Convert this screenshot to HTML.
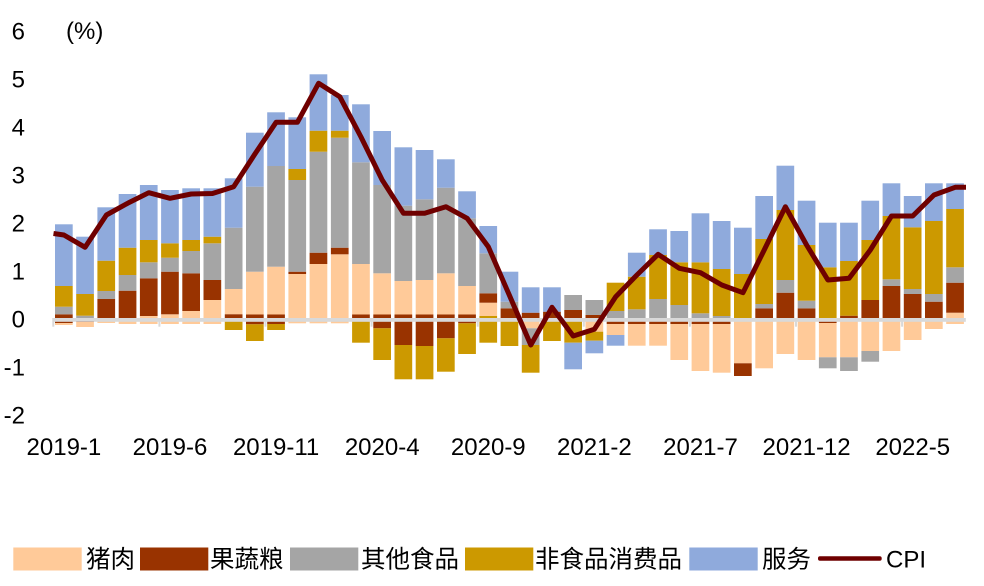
<!DOCTYPE html>
<html>
<head>
<meta charset="utf-8">
<style>
html,body{margin:0;padding:0;background:#fff;}
svg{display:block;}
.p{fill:#FFCA99}.b{fill:#993300}.g{fill:#A5A5A5}.y{fill:#CC9900}.l{fill:#8FAADC}
text{font-family:"Liberation Sans","Noto Sans CJK SC",sans-serif;fill:#000;}
</style>
</head>
<body>
<svg width="984" height="586" viewBox="0 0 984 586" xmlns="http://www.w3.org/2000/svg">
<rect width="984" height="586" fill="#fff"/>

<!-- Y axis labels -->
<g font-size="24" text-anchor="end">
<text x="25" y="39.4">6</text>
<text x="25" y="87.4">5</text>
<text x="25" y="135.4">4</text>
<text x="25" y="183.4">3</text>
<text x="25" y="231.4">2</text>
<text x="25" y="279.4">1</text>
<text x="25" y="327.4">0</text>
<text x="25" y="375.4">-1</text>
<text x="25" y="423.4">-2</text>
</g>
<text x="66" y="39" font-size="24">(%)</text>

<!-- Bars -->
<g>
<g transform="translate(55.0,0)"><rect class="b" x="0" width="17.7" y="314.3" height="5.7"/><rect class="g" x="0" width="17.7" y="306.7" height="7.6"/><rect class="y" x="0" width="17.7" y="286" height="20.7"/><rect class="l" x="0" width="17.7" y="224.3" height="61.7"/><rect class="b" x="0" width="17.7" y="320" height="3"/><rect class="p" x="0" width="17.7" y="323" height="2"/></g>
<g transform="translate(76.2,0)"><rect class="g" x="0" width="17.7" y="315.7" height="4.3"/><rect class="y" x="0" width="17.7" y="294" height="21.7"/><rect class="l" x="0" width="17.7" y="236.7" height="57.3"/><rect class="b" x="0" width="17.7" y="320" height="2"/><rect class="p" x="0" width="17.7" y="322" height="5"/></g>
<g transform="translate(97.4,0)"><rect class="b" x="0" width="17.7" y="299" height="21"/><rect class="g" x="0" width="17.7" y="291" height="8"/><rect class="y" x="0" width="17.7" y="260.7" height="30.3"/><rect class="l" x="0" width="17.7" y="207.3" height="53.4"/><rect class="p" x="0" width="17.7" y="320" height="3"/></g>
<g transform="translate(118.7,0)"><rect class="b" x="0" width="17.7" y="290.7" height="29.3"/><rect class="g" x="0" width="17.7" y="275" height="15.7"/><rect class="y" x="0" width="17.7" y="247.7" height="27.3"/><rect class="l" x="0" width="17.7" y="194" height="53.7"/><rect class="p" x="0" width="17.7" y="320" height="4"/></g>
<g transform="translate(139.9,0)"><rect class="p" x="0" width="17.7" y="316" height="8"/><rect class="b" x="0" width="17.7" y="278.3" height="37.7"/><rect class="g" x="0" width="17.7" y="262.3" height="16"/><rect class="y" x="0" width="17.7" y="240" height="22.3"/><rect class="l" x="0" width="17.7" y="185" height="55"/></g>
<g transform="translate(161.1,0)"><rect class="p" x="0" width="17.7" y="314.3" height="9.7"/><rect class="b" x="0" width="17.7" y="271.7" height="42.6"/><rect class="g" x="0" width="17.7" y="257.7" height="14"/><rect class="y" x="0" width="17.7" y="243.3" height="14.4"/><rect class="l" x="0" width="17.7" y="190" height="53.3"/></g>
<g transform="translate(182.3,0)"><rect class="p" x="0" width="17.7" y="311" height="13"/><rect class="b" x="0" width="17.7" y="273.3" height="37.7"/><rect class="g" x="0" width="17.7" y="251" height="22.3"/><rect class="y" x="0" width="17.7" y="240" height="11"/><rect class="l" x="0" width="17.7" y="188.3" height="51.7"/></g>
<g transform="translate(203.5,0)"><rect class="p" x="0" width="17.7" y="300" height="24"/><rect class="b" x="0" width="17.7" y="280" height="20"/><rect class="g" x="0" width="17.7" y="243.3" height="36.7"/><rect class="y" x="0" width="17.7" y="236.7" height="6.6"/><rect class="l" x="0" width="17.7" y="188.3" height="48.4"/></g>
<g transform="translate(224.8,0)"><rect class="p" x="0" width="17.7" y="289" height="25.3"/><rect class="b" x="0" width="17.7" y="314.3" height="3.7"/><rect class="g" x="0" width="17.7" y="227.7" height="61.3"/><rect class="l" x="0" width="17.7" y="178.3" height="49.4"/><rect class="y" x="0" width="17.7" y="320" height="10"/></g>
<g transform="translate(246.0,0)"><rect class="p" x="0" width="17.7" y="271.7" height="42.8"/><rect class="b" x="0" width="17.7" y="314.5" height="9.8"/><rect class="g" x="0" width="17.7" y="186.7" height="85"/><rect class="l" x="0" width="17.7" y="132.7" height="54"/><rect class="y" x="0" width="17.7" y="324.3" height="16.7"/></g>
<g transform="translate(267.2,0)"><rect class="p" x="0" width="17.7" y="266.7" height="47.8"/><rect class="b" x="0" width="17.7" y="314.5" height="9.5"/><rect class="g" x="0" width="17.7" y="166" height="100.7"/><rect class="l" x="0" width="17.7" y="112.3" height="53.7"/><rect class="y" x="0" width="17.7" y="324" height="6"/></g>
<g transform="translate(288.4,0)"><rect class="p" x="0" width="17.7" y="274" height="49.3"/><rect class="b" x="0" width="17.7" y="271.7" height="2.3"/><rect class="g" x="0" width="17.7" y="180" height="91.7"/><rect class="y" x="0" width="17.7" y="169" height="11"/><rect class="l" x="0" width="17.7" y="117.3" height="51.7"/></g>
<g transform="translate(309.6,0)"><rect class="p" x="0" width="17.7" y="264" height="59.3"/><rect class="b" x="0" width="17.7" y="252.7" height="11.3"/><rect class="g" x="0" width="17.7" y="151.7" height="101"/><rect class="y" x="0" width="17.7" y="130.7" height="21"/><rect class="l" x="0" width="17.7" y="74.3" height="56.4"/></g>
<g transform="translate(330.9,0)"><rect class="p" x="0" width="17.7" y="254.3" height="69"/><rect class="b" x="0" width="17.7" y="247.7" height="6.6"/><rect class="g" x="0" width="17.7" y="137.7" height="110"/><rect class="y" x="0" width="17.7" y="130.7" height="7"/><rect class="l" x="0" width="17.7" y="95" height="35.7"/></g>
<g transform="translate(352.1,0)"><rect class="p" x="0" width="17.7" y="264" height="50.5"/><rect class="b" x="0" width="17.7" y="314.5" height="5.5"/><rect class="g" x="0" width="17.7" y="162.3" height="101.7"/><rect class="l" x="0" width="17.7" y="104.3" height="58"/><rect class="y" x="0" width="17.7" y="320" height="22.7"/></g>
<g transform="translate(373.3,0)"><rect class="p" x="0" width="17.7" y="273.3" height="41.2"/><rect class="b" x="0" width="17.7" y="314.5" height="13.8"/><rect class="g" x="0" width="17.7" y="185" height="88.3"/><rect class="l" x="0" width="17.7" y="131" height="54"/><rect class="y" x="0" width="17.7" y="328.3" height="31.7"/></g>
<g transform="translate(394.5,0)"><rect class="p" x="0" width="17.7" y="281" height="33.5"/><rect class="b" x="0" width="17.7" y="314.5" height="30.5"/><rect class="g" x="0" width="17.7" y="205.7" height="75.3"/><rect class="l" x="0" width="17.7" y="147.3" height="58.4"/><rect class="y" x="0" width="17.7" y="345" height="34.3"/></g>
<g transform="translate(415.7,0)"><rect class="p" x="0" width="17.7" y="280" height="34.5"/><rect class="b" x="0" width="17.7" y="314.5" height="31.5"/><rect class="g" x="0" width="17.7" y="199.3" height="80.7"/><rect class="l" x="0" width="17.7" y="150" height="49.3"/><rect class="y" x="0" width="17.7" y="346" height="33.3"/></g>
<g transform="translate(437.0,0)"><rect class="p" x="0" width="17.7" y="273.3" height="41.2"/><rect class="b" x="0" width="17.7" y="314.5" height="23.8"/><rect class="g" x="0" width="17.7" y="187.7" height="85.6"/><rect class="l" x="0" width="17.7" y="159.3" height="28.4"/><rect class="y" x="0" width="17.7" y="338.3" height="33.4"/></g>
<g transform="translate(458.2,0)"><rect class="p" x="0" width="17.7" y="286" height="28.5"/><rect class="b" x="0" width="17.7" y="314.5" height="8.8"/><rect class="g" x="0" width="17.7" y="218.3" height="67.7"/><rect class="l" x="0" width="17.7" y="191.3" height="27"/><rect class="y" x="0" width="17.7" y="323.3" height="30.7"/></g>
<g transform="translate(479.4,0)"><rect class="p" x="0" width="17.7" y="302.7" height="13.3"/><rect class="b" x="0" width="17.7" y="293.3" height="9.4"/><rect class="g" x="0" width="17.7" y="253.3" height="40"/><rect class="l" x="0" width="17.7" y="226" height="27.3"/><rect class="y" x="0" width="17.7" y="316" height="26.7"/></g>
<g transform="translate(500.6,0)"><rect class="b" x="0" width="17.7" y="308.3" height="9.7"/><rect class="g" x="0" width="17.7" y="301.7" height="6.6"/><rect class="l" x="0" width="17.7" y="271.7" height="30"/><rect class="y" x="0" width="17.7" y="318" height="28"/></g>
<g transform="translate(521.8,0)"><rect class="b" x="0" width="17.7" y="312.7" height="5.3"/><rect class="l" x="0" width="17.7" y="287.3" height="25.4"/><rect class="p" x="0" width="17.7" y="318" height="10.3"/><rect class="g" x="0" width="17.7" y="328.3" height="16.7"/><rect class="y" x="0" width="17.7" y="345" height="27.7"/></g>
<g transform="translate(543.1,0)"><rect class="b" x="0" width="17.7" y="311.7" height="6.3"/><rect class="l" x="0" width="17.7" y="287.3" height="24.4"/><rect class="y" x="0" width="17.7" y="318" height="23"/></g>
<g transform="translate(564.3,0)"><rect class="b" x="0" width="17.7" y="310" height="8"/><rect class="g" x="0" width="17.7" y="295" height="15"/><rect class="y" x="0" width="17.7" y="318" height="24.7"/><rect class="l" x="0" width="17.7" y="342.7" height="26.6"/></g>
<g transform="translate(585.5,0)"><rect class="b" x="0" width="17.7" y="315" height="3"/><rect class="g" x="0" width="17.7" y="300" height="15"/><rect class="p" x="0" width="17.7" y="318" height="13.7"/><rect class="y" x="0" width="17.7" y="331.7" height="9"/><rect class="l" x="0" width="17.7" y="340.7" height="12.6"/></g>
<g transform="translate(606.7,0)"><rect class="g" x="0" width="17.7" y="311" height="7"/><rect class="y" x="0" width="17.7" y="282.7" height="28.3"/><rect class="b" x="0" width="17.7" y="318" height="6"/><rect class="p" x="0" width="17.7" y="324" height="11"/><rect class="l" x="0" width="17.7" y="335" height="10.7"/></g>
<g transform="translate(627.9,0)"><rect class="g" x="0" width="17.7" y="309.3" height="8.7"/><rect class="y" x="0" width="17.7" y="276.7" height="32.6"/><rect class="l" x="0" width="17.7" y="252.7" height="24"/><rect class="b" x="0" width="17.7" y="318" height="6"/><rect class="p" x="0" width="17.7" y="324" height="21.7"/></g>
<g transform="translate(649.2,0)"><rect class="g" x="0" width="17.7" y="299" height="19"/><rect class="y" x="0" width="17.7" y="255" height="44"/><rect class="l" x="0" width="17.7" y="229.3" height="25.7"/><rect class="b" x="0" width="17.7" y="318" height="6"/><rect class="p" x="0" width="17.7" y="324" height="21.7"/></g>
<g transform="translate(670.4,0)"><rect class="g" x="0" width="17.7" y="305" height="13"/><rect class="y" x="0" width="17.7" y="262.3" height="42.7"/><rect class="l" x="0" width="17.7" y="231" height="31.3"/><rect class="b" x="0" width="17.7" y="318" height="6"/><rect class="p" x="0" width="17.7" y="324" height="36"/></g>
<g transform="translate(691.6,0)"><rect class="g" x="0" width="17.7" y="313.3" height="4.7"/><rect class="y" x="0" width="17.7" y="262.3" height="51"/><rect class="l" x="0" width="17.7" y="213.3" height="49"/><rect class="b" x="0" width="17.7" y="318" height="6"/><rect class="p" x="0" width="17.7" y="324" height="47"/></g>
<g transform="translate(712.8,0)"><rect class="g" x="0" width="17.7" y="316" height="2"/><rect class="y" x="0" width="17.7" y="269" height="47"/><rect class="l" x="0" width="17.7" y="221" height="48"/><rect class="b" x="0" width="17.7" y="318" height="6"/><rect class="p" x="0" width="17.7" y="324" height="48.7"/></g>
<g transform="translate(734.0,0)"><rect class="y" x="0" width="17.7" y="274" height="47.7"/><rect class="l" x="0" width="17.7" y="227.7" height="46.3"/><rect class="p" x="0" width="17.7" y="321.7" height="41.6"/><rect class="b" x="0" width="17.7" y="363.3" height="12.7"/></g>
<g transform="translate(755.3,0)"><rect class="b" x="0" width="17.7" y="308.3" height="9.7"/><rect class="g" x="0" width="17.7" y="304" height="4.3"/><rect class="y" x="0" width="17.7" y="239" height="65"/><rect class="l" x="0" width="17.7" y="196" height="43"/><rect class="p" x="0" width="17.7" y="318" height="50.3"/></g>
<g transform="translate(776.5,0)"><rect class="b" x="0" width="17.7" y="292.7" height="25.3"/><rect class="g" x="0" width="17.7" y="280" height="12.7"/><rect class="y" x="0" width="17.7" y="210" height="70"/><rect class="l" x="0" width="17.7" y="165.7" height="44.3"/><rect class="p" x="0" width="17.7" y="318" height="36"/></g>
<g transform="translate(797.7,0)"><rect class="b" x="0" width="17.7" y="308.3" height="9.7"/><rect class="g" x="0" width="17.7" y="300.7" height="7.6"/><rect class="y" x="0" width="17.7" y="245" height="55.7"/><rect class="l" x="0" width="17.7" y="200.7" height="44.3"/><rect class="p" x="0" width="17.7" y="318" height="42"/></g>
<g transform="translate(818.9,0)"><rect class="y" x="0" width="17.7" y="267.3" height="50.7"/><rect class="l" x="0" width="17.7" y="222.7" height="44.6"/><rect class="b" x="0" width="17.7" y="318" height="5"/><rect class="p" x="0" width="17.7" y="323" height="34.3"/><rect class="g" x="0" width="17.7" y="357.3" height="11"/></g>
<g transform="translate(840.1,0)"><rect class="b" x="0" width="17.7" y="315.7" height="2.3"/><rect class="y" x="0" width="17.7" y="261" height="54.7"/><rect class="l" x="0" width="17.7" y="222.7" height="38.3"/><rect class="p" x="0" width="17.7" y="318" height="39.3"/><rect class="g" x="0" width="17.7" y="357.3" height="13.7"/></g>
<g transform="translate(861.4,0)"><rect class="b" x="0" width="17.7" y="300" height="18"/><rect class="y" x="0" width="17.7" y="240" height="60"/><rect class="l" x="0" width="17.7" y="200.7" height="39.3"/><rect class="p" x="0" width="17.7" y="318" height="33"/><rect class="g" x="0" width="17.7" y="351" height="10.7"/></g>
<g transform="translate(882.6,0)"><rect class="b" x="0" width="17.7" y="286" height="32"/><rect class="g" x="0" width="17.7" y="279.3" height="6.7"/><rect class="y" x="0" width="17.7" y="216" height="63.3"/><rect class="l" x="0" width="17.7" y="183.3" height="32.7"/><rect class="p" x="0" width="17.7" y="318" height="33"/></g>
<g transform="translate(903.8,0)"><rect class="b" x="0" width="17.7" y="294" height="24"/><rect class="g" x="0" width="17.7" y="289" height="5"/><rect class="y" x="0" width="17.7" y="227.3" height="61.7"/><rect class="l" x="0" width="17.7" y="196" height="31.3"/><rect class="p" x="0" width="17.7" y="318" height="22"/></g>
<g transform="translate(925.0,0)"><rect class="b" x="0" width="17.7" y="301.7" height="16.3"/><rect class="g" x="0" width="17.7" y="294" height="7.7"/><rect class="y" x="0" width="17.7" y="221" height="73"/><rect class="l" x="0" width="17.7" y="183.3" height="37.7"/><rect class="p" x="0" width="17.7" y="318" height="11"/></g>
<g transform="translate(946.2,0)"><rect class="p" x="0" width="17.7" y="312.7" height="11.3"/><rect class="b" x="0" width="17.7" y="282.7" height="30"/><rect class="g" x="0" width="17.7" y="267.3" height="15.4"/><rect class="y" x="0" width="17.7" y="209" height="58.3"/><rect class="l" x="0" width="17.7" y="183.3" height="25.7"/></g>
</g>

<!-- zero axis line and ticks -->
<rect x="53.3" y="318" width="912.5" height="3.8" fill="#D9D9D9"/>
<g fill="#D9D9D9">
<rect x="52.3" y="318" width="2" height="8.7"/>
<rect x="158.4" y="318" width="2" height="8.7"/>
<rect x="264.5" y="318" width="2" height="8.7"/>
<rect x="370.6" y="318" width="2" height="8.7"/>
<rect x="476.7" y="318" width="2" height="8.7"/>
<rect x="582.8" y="318" width="2" height="8.7"/>
<rect x="688.9" y="318" width="2" height="8.7"/>
<rect x="795.0" y="318" width="2" height="8.7"/>
<rect x="901.1" y="318" width="2" height="8.7"/>
</g>

<!-- CPI line -->
<polyline fill="none" stroke="#6F0000" stroke-width="5" stroke-linejoin="round" points="53.5,233.5 63.9,235 85.1,247.3 106.4,215 127.6,203.3 148.8,192.7 170.0,198.3 191.2,194 212.5,193.5 233.7,186.7 254.9,154 276.1,122.3 297.4,122.3 318.6,83.3 339.8,96.7 361.0,137 382.2,180 403.5,213.3 424.7,213.3 445.9,206.7 467.1,218.3 488.3,246.7 509.6,295.8 530.8,345 552.0,307.3 573.2,336 594.4,329.3 615.7,296.7 636.9,275 658.1,254.3 679.3,268.3 700.5,272.7 721.8,285 743.0,292.7 764.2,250 785.4,206.7 806.6,245 827.9,280 849.1,278.3 870.3,250 891.5,216 912.7,216 934.0,195 955.2,187.3 966,187.3"/>

<!-- X axis labels -->
<g font-size="24" text-anchor="middle">
<text x="63.9" y="455">2019-1</text>
<text x="170.0" y="455">2019-6</text>
<text x="276.1" y="455">2019-11</text>
<text x="382.2" y="455">2020-4</text>
<text x="488.3" y="455">2020-9</text>
<text x="594.4" y="455">2021-2</text>
<text x="700.5" y="455">2021-7</text>
<text x="806.6" y="455">2021-12</text>
<text x="912.7" y="455">2022-5</text>
</g>

<!-- Legend -->
<rect class="p" x="13.3" y="547.5" width="68.4" height="23"/>
<text x="86" y="567.5" font-size="24.5">猪肉</text>
<rect class="b" x="140" y="547.5" width="68.3" height="23"/>
<text x="210" y="567.5" font-size="24.5">果蔬粮</text>
<rect class="g" x="290" y="547.5" width="68.3" height="23"/>
<text x="361" y="567.5" font-size="24.5">其他食品</text>
<rect class="y" x="465" y="547.5" width="68.3" height="23"/>
<text x="535" y="567.5" font-size="24.5">非食品消费品</text>
<rect class="l" x="689.3" y="547.5" width="68.4" height="23"/>
<text x="762" y="567.5" font-size="24.5">服务</text>
<rect x="818" y="556.3" width="63.7" height="4.5" fill="#6F0000" rx="2"/>
<text x="886" y="567.5" font-size="24">CPI</text>
</svg>
</body>
</html>
